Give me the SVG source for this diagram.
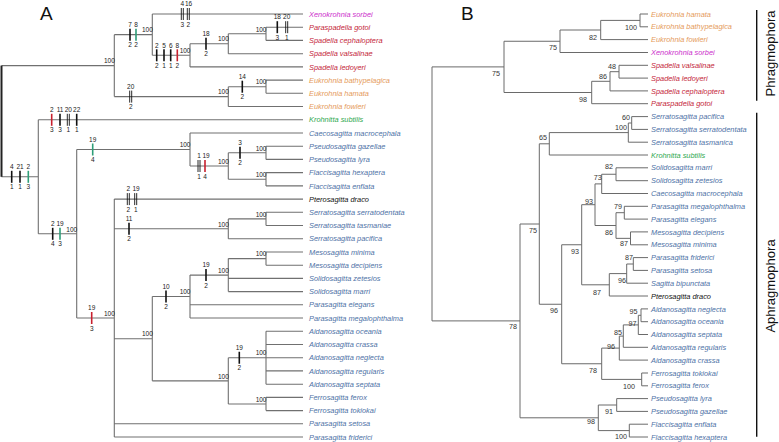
<svg xmlns="http://www.w3.org/2000/svg" width="779" height="442" viewBox="0 0 779 442">
<style>
.ea{fill:none;stroke:#707070;stroke-width:1.1}
.eb{fill:none;stroke:#6a6a6a;stroke-width:1}
.sp{font-family:"Liberation Sans",Arial,sans-serif;font-style:italic;font-size:7.4px}
.o{fill:#E59A5B}.m{fill:#CC2FCC}.r{fill:#C41E3A}.g{fill:#2FA84F}.b{fill:#4E72A6}.k{fill:#111}
.n{font-family:"Liberation Sans",Arial,sans-serif;font-size:6.5px;fill:#222;text-anchor:middle}
.na{font-family:"Liberation Sans",Arial,sans-serif;font-size:6.5px;fill:#222;text-anchor:end}
.nb{font-family:"Liberation Sans",Arial,sans-serif;font-size:7.2px;fill:#333;text-anchor:end}
.t{stroke:#111;stroke-width:1.6}
.tr{stroke:#C8202E;stroke-width:1.6}
.tg{stroke:#2E9E78;stroke-width:1.6}
.td{stroke:#111;stroke-width:0.9}
.big{font-family:"Liberation Sans",Arial,sans-serif;font-size:19px;fill:#111}
.clade{font-family:"Liberation Sans",Arial,sans-serif;font-size:13px;fill:#111;text-anchor:middle}
.bar{stroke:#111;stroke-width:1.4}
</style>
<text class="big" x="40" y="20">A</text>
<text class="big" x="461" y="19.5">B</text>

<g id="connectors-a">
<path class="ea" d="M1.5,65.6H114.3M1.5,176.8H38.3
M114.3,34.65V96.6M114.3,34.65H152.3M114.3,96.6H228.3
M152.3,14V55.3M152.3,14H303M152.3,55.3H190
M190,43.75V66.9M190,43.75H228.3M190,66.9H303
M228.3,33.8V53.7M228.3,33.8H266M228.3,53.7H303
M266,27.2V40.4M266,27.2H303M266,40.4H303
M228.3,86.7V106.5M228.3,86.7H266M228.3,106.5H303
M266,80.1V93.3M266,80.1H303M266,93.3H303
M38.3,119.8V233.8M38.3,119.8H303M38.3,233.8H76.7
M76.7,149.5V318M76.7,149.5H190M76.7,318H114.3
M190,133V166M190,133H303M190,166H228.3
M228.3,152.8V179.25M228.3,152.8H266M228.3,179.25H266
M266,146.2V159.4M266,146.2H303M266,159.4H303
M266,172.6V185.9M266,172.6H303M266,185.9H303
M114.3,199.1V437M114.3,199.1H303M114.3,228.8H228.3M114.3,338.7H152.3M114.3,423.8H303M114.3,437H303
M228.3,218.9V238.7M228.3,218.9H266M228.3,238.7H303
M266,212.3V225.5M266,212.3H303M266,225.5H303
M152.3,296.5V380.85M152.3,296.5H190M152.3,380.85H228.3
M190,275.1V318M190,275.1H228.3M190,304.8H303M190,318H303
M228.3,258.6V291.6M228.3,258.6H266M228.3,278.4H303M228.3,291.6H303
M266,252V265.2M266,252H303M266,265.2H303
M228.3,357.75V404M228.3,357.75H266M228.3,404H266
M266,331.3V384.2M266,331.3H303M266,344.5H303M266,357.7H303M266,370.9H303M266,384.2H303
M266,397.4V410.6M266,397.4H303M266,410.6H303"/>
<path d="M1.5,65.6V176.8" stroke="#222" stroke-width="2" fill="none"/>
</g>

<g id="connectors-b">
<path class="eb" d="M432,66.9V320.9M432,66.9H504M432,320.9H520
M504,41.25V92.5M504,41.25H560M504,92.5H591.7
M560,30V52.5M560,30H600.7M560,52.5H648
M600.7,20.4V39.6M600.7,20.4H640M600.7,39.6H648
M640,14V26.8M640,14H648M640,26.8H648
M591.7,81.3V103.7M591.7,81.3H610M591.7,103.7H648
M610,71.7V90.9M610,71.7H619M610,90.9H648
M619,65.3V78.1M619,65.3H648M619,78.1H648
M520,224V417.8M520,224H539.3M520,417.8H598.3
M539.3,143.8V304.25M539.3,143.8H549.3M539.3,304.25H561.7
M549.3,132.6V155M549.3,132.6H628.3M549.3,155H648
M628.3,123V142.2M628.3,123H631.7M628.3,142.2H648
M631.7,116.6V129.4M631.7,116.6H648M631.7,129.4H648
M561.7,244.75V363.75M561.7,244.75H581.7M561.7,363.75H601.7
M581.7,204.7V284.8M581.7,204.7H595M581.7,284.8H609.3
M595,183.9V225.5M595,183.9H601.7M595,225.5H616
M601.7,174.25V193.5M601.7,174.25H616M601.7,193.5H648
M616,167.8V180.7M616,167.8H648M616,180.7H648
M616,212.7V238.35M616,212.7H624.3M616,238.35H630.5
M624.3,206.3V219.1M624.3,206.3H648M624.3,219.1H648
M630.5,231.9V244.8M630.5,231.9H648M630.5,244.8H648
M609.3,273.6V296M609.3,273.6H626.7M609.3,296H648
M626.7,264V283.2M626.7,264H633.3M626.7,283.2H648
M633.3,257.6V270.4M633.3,257.6H648M633.3,270.4H648
M601.7,348.1V379.4M601.7,348.1H619.3M601.7,379.4H641.7
M619.3,336.1V360.1M619.3,336.1H623.3M619.3,360.1H648
M623.3,324.9V347.3M623.3,324.9H638.3M623.3,347.3H648
M638.3,315.3V334.5M638.3,315.3H641M638.3,334.5H648
M641,308.9V321.7M641,308.9H648M641,321.7H648
M641.7,373V385.8M641.7,373H648M641.7,385.8H648
M598.3,405V430.6M598.3,405H616.7M598.3,430.6H629.3
M616.7,398.6V411.4M616.7,398.6H648M616.7,411.4H648
M629.3,424.2V437M629.3,424.2H648M629.3,437H648"/>
</g>

<g id="characters-a">
<line class="t" x1="11.7" y1="170.8" x2="11.7" y2="182.8"/><text class="n" x="11.7" y="169">4</text><text class="n" x="11.7" y="189.3">1</text>
<line class="t" x1="20" y1="170.8" x2="20" y2="182.8"/><text class="n" x="20" y="169">21</text><text class="n" x="20" y="189.3">1</text>
<line class="tg" x1="28.3" y1="170.8" x2="28.3" y2="182.8"/><text class="n" x="28.3" y="169">2</text><text class="n" x="28.3" y="189.3">3</text>
<line class="tr" x1="51.7" y1="113.8" x2="51.7" y2="125.8"/><text class="n" x="51.7" y="112">2</text><text class="n" x="51.7" y="132.3">3</text>
<line class="t" x1="60" y1="113.8" x2="60" y2="125.8"/><text class="n" x="60" y="112">11</text><text class="n" x="60" y="132.3">3</text>
<line class="td" x1="67.3" y1="113.8" x2="67.3" y2="125.8"/><line class="td" x1="69.3" y1="113.8" x2="69.3" y2="125.8"/><text class="n" x="68.3" y="112">20</text><text class="n" x="68.3" y="132.3">1</text>
<line class="t" x1="76.7" y1="113.8" x2="76.7" y2="125.8"/><text class="n" x="76.7" y="112">22</text><text class="n" x="76.7" y="132.3">1</text>
<line class="t" x1="52.7" y1="227.8" x2="52.7" y2="239.8"/><text class="n" x="52.7" y="226">2</text><text class="n" x="52.7" y="246.3">4</text>
<line class="tg" x1="60" y1="227.8" x2="60" y2="239.8"/><text class="n" x="60" y="226">19</text><text class="n" x="60" y="246.3">3</text>
<line class="tg" x1="92.7" y1="143.5" x2="92.7" y2="155.5"/><text class="n" x="92.7" y="141.7">19</text><text class="n" x="92.7" y="162">4</text>
<line class="tr" x1="91.7" y1="312" x2="91.7" y2="324"/><text class="n" x="91.7" y="310.2">19</text><text class="n" x="91.7" y="330.5">3</text>
<line class="t" x1="130" y1="28.65" x2="130" y2="40.65"/><text class="n" x="130" y="26.8">7</text><text class="n" x="130" y="47.2">2</text>
<line class="tg" x1="136" y1="28.65" x2="136" y2="40.65"/><text class="n" x="136" y="26.8">8</text><text class="n" x="136" y="47.2">2</text>
<line class="td" x1="129.7" y1="90.6" x2="129.7" y2="102.6"/><line class="td" x1="131.7" y1="90.6" x2="131.7" y2="102.6"/><text class="n" x="130.7" y="88.8">20</text><text class="n" x="130.7" y="109.1">2</text>
<line class="td" x1="181.3" y1="8" x2="181.3" y2="20"/><line class="td" x1="183.3" y1="8" x2="183.3" y2="20"/><text class="n" x="182.3" y="6.3">4</text><text class="n" x="182.3" y="26.5">3</text>
<line class="td" x1="187.3" y1="8" x2="187.3" y2="20"/><line class="td" x1="189.3" y1="8" x2="189.3" y2="20"/><text class="n" x="188.6" y="6.3">16</text><text class="n" x="188.3" y="26.5">2</text>
<line class="t" x1="156.7" y1="49.3" x2="156.7" y2="61.3"/><text class="n" x="156.7" y="47.5">2</text><text class="n" x="156.7" y="67.8">2</text>
<line class="t" x1="164" y1="49.3" x2="164" y2="61.3"/><text class="n" x="164" y="47.5">5</text><text class="n" x="164" y="67.8">1</text>
<line class="t" x1="170.7" y1="49.3" x2="170.7" y2="61.3"/><text class="n" x="170.7" y="47.5">6</text><text class="n" x="170.7" y="67.8">1</text>
<line class="tr" x1="177.3" y1="49.3" x2="177.3" y2="61.3"/><text class="n" x="177.3" y="47.5">8</text><text class="n" x="177.3" y="67.8">2</text>
<line class="t" x1="206" y1="37.75" x2="206" y2="49.75"/><text class="n" x="206" y="35.9">18</text><text class="n" x="206" y="56.2">2</text>
<line class="t" x1="277.3" y1="21.2" x2="277.3" y2="33.2"/><text class="n" x="277.3" y="19.4">18</text><text class="n" x="277.3" y="39.7">3</text>
<line class="td" x1="285.7" y1="21.2" x2="285.7" y2="33.2"/><line class="td" x1="287.7" y1="21.2" x2="287.7" y2="33.2"/><text class="n" x="286.7" y="19.4">20</text><text class="n" x="286.7" y="39.7">1</text>
<line class="t" x1="242.3" y1="80.7" x2="242.3" y2="92.7"/><text class="n" x="242.3" y="78.9">14</text><text class="n" x="242.3" y="99.2">2</text>
<line class="td" x1="198" y1="160" x2="198" y2="172"/><line class="td" x1="200" y1="160" x2="200" y2="172"/><text class="n" x="199" y="158.2">1</text><text class="n" x="199" y="178.5">1</text>
<line class="tr" x1="205" y1="160" x2="205" y2="172"/><text class="n" x="206" y="158.2">19</text><text class="n" x="205" y="178.5">4</text>
<line class="t" x1="240" y1="146.8" x2="240" y2="158.8"/><text class="n" x="240" y="145">3</text><text class="n" x="240" y="165.3">2</text>
<line class="td" x1="127.3" y1="193.1" x2="127.3" y2="205.1"/><line class="td" x1="129.3" y1="193.1" x2="129.3" y2="205.1"/><text class="n" x="128.3" y="191.3">2</text><text class="n" x="128.3" y="211.6">2</text>
<line class="td" x1="134.7" y1="193.1" x2="134.7" y2="205.1"/><line class="td" x1="136.7" y1="193.1" x2="136.7" y2="205.1"/><text class="n" x="136" y="191.3">19</text><text class="n" x="135.7" y="211.6">1</text>
<line class="t" x1="129" y1="222.8" x2="129" y2="234.8"/><text class="n" x="129" y="221">11</text><text class="n" x="129" y="241.3">2</text>
<line class="t" x1="166" y1="290.5" x2="166" y2="302.5"/><text class="n" x="166" y="288.7">10</text><text class="n" x="166" y="309">2</text>
<line class="t" x1="206" y1="269.1" x2="206" y2="281.1"/><text class="n" x="206" y="267.3">19</text><text class="n" x="206" y="287.6">2</text>
<line class="t" x1="239.3" y1="351.75" x2="239.3" y2="363.75"/><text class="n" x="239.3" y="349.9">19</text><text class="n" x="239.3" y="370.2">2</text>
</g>

<g id="support-a">
<text class="na" x="114.8" y="63.3">100</text>
<text class="na" x="152.8" y="32.3">100</text>
<text class="na" x="190.5" y="53">100</text>
<text class="na" x="228.8" y="41.4">100</text>
<text class="na" x="266.5" y="31.5">100</text>
<text class="na" x="228.8" y="94.3">100</text>
<text class="na" x="266.5" y="84.4">100</text>
<text class="na" x="77.2" y="231.5">100</text>
<text class="na" x="190.5" y="147.2">100</text>
<text class="na" x="228.8" y="163.7">100</text>
<text class="na" x="266.5" y="150.5">100</text>
<text class="na" x="266.5" y="177">100</text>
<text class="na" x="114.8" y="315.7">100</text>
<text class="na" x="228.8" y="226.5">100</text>
<text class="na" x="266.5" y="216.6">100</text>
<text class="na" x="152.8" y="336.4">100</text>
<text class="na" x="190.5" y="294.2">100</text>
<text class="na" x="228.8" y="272.8">100</text>
<text class="na" x="266.5" y="256.3">100</text>
<text class="na" x="228.8" y="378.5">100</text>
<text class="na" x="266.5" y="355.4">100</text>
<text class="na" x="266.5" y="401.7">100</text>
</g>

<g id="leaves-a" class="sp">
<g id="a-xenokrohnia-sorbei"><text class="m" x="309" y="16.6">Xenokrohnia sorbei</text></g>
<g id="a-paraspadella-gotoi"><text class="r" x="309" y="29.8">Paraspadella gotoi</text></g>
<g id="a-spadella-cephaloptera"><text class="r" x="309" y="43">Spadella cephaloptera</text></g>
<g id="a-spadella-valsalinae"><text class="r" x="309" y="56.3">Spadella valsalinae</text></g>
<g id="a-spadella-ledoyeri"><text class="r" x="309" y="69.5">Spadella ledoyeri</text></g>
<g id="a-eukrohnia-bathypelagica"><text class="o" x="309" y="82.7">Eukrohnia bathypelagica</text></g>
<g id="a-eukrohnia-hamata"><text class="o" x="309" y="95.9">Eukrohnia hamata</text></g>
<g id="a-eukrohnia-fowleri"><text class="o" x="309" y="109.1">Eukrohnia fowleri</text></g>
<g id="a-krohnitta-subtilis"><text class="g" x="309" y="122.4">Krohnitta subtilis</text></g>
<g id="a-caecosagitta-macrocephala"><text class="b" x="309" y="135.6">Caecosagitta macrocephala</text></g>
<g id="a-pseudosagitta-gazellae"><text class="b" x="309" y="148.8">Pseudosagitta gazellae</text></g>
<g id="a-pseudosagitta-lyra"><text class="b" x="309" y="162">Pseudosagitta lyra</text></g>
<g id="a-flaccisagitta-hexaptera"><text class="b" x="309" y="175.2">Flaccisagitta hexaptera</text></g>
<g id="a-flaccisagitta-enflata"><text class="b" x="309" y="188.5">Flaccisagitta enflata</text></g>
<g id="a-pterosagitta-draco"><text class="k" x="309" y="201.7">Pterosagitta draco</text></g>
<g id="a-serratosagitta-serratodentata"><text class="b" x="309" y="214.9">Serratosagitta serratodentata</text></g>
<g id="a-serratosagitta-tasmaniae"><text class="b" x="309" y="228.1">Serratosagitta tasmaniae</text></g>
<g id="a-serratosagitta-pacifica"><text class="b" x="309" y="241.3">Serratosagitta pacifica</text></g>
<g id="a-mesosagitta-minima"><text class="b" x="309" y="254.6">Mesosagitta minima</text></g>
<g id="a-mesosagitta-decipiens"><text class="b" x="309" y="267.8">Mesosagitta decipiens</text></g>
<g id="a-solidosagitta-zetesios"><text class="b" x="309" y="281">Solidosagitta zetesios</text></g>
<g id="a-solidosagitta-marri"><text class="b" x="309" y="294.2">Solidosagitta marri</text></g>
<g id="a-parasagitta-elegans"><text class="b" x="309" y="307.4">Parasagitta elegans</text></g>
<g id="a-parasagitta-megalophthalma"><text class="b" x="309" y="320.6">Parasagitta megalophthalma</text></g>
<g id="a-aidanosagitta-oceania"><text class="b" x="309" y="333.9">Aidanosagitta oceania</text></g>
<g id="a-aidanosagitta-crassa"><text class="b" x="309" y="347.1">Aidanosagitta crassa</text></g>
<g id="a-aidanosagitta-neglecta"><text class="b" x="309" y="360.3">Aidanosagitta neglecta</text></g>
<g id="a-aidanosagitta-regularis"><text class="b" x="309" y="373.5">Aidanosagitta regularis</text></g>
<g id="a-aidanosagitta-septata"><text class="b" x="309" y="386.8">Aidanosagitta septata</text></g>
<g id="a-ferrosagitta-ferox"><text class="b" x="309" y="400">Ferrosagitta ferox</text></g>
<g id="a-ferrosagitta-tokiokai"><text class="b" x="309" y="413.2">Ferrosagitta tokiokai</text></g>
<g id="a-parasagitta-setosa"><text class="b" x="309" y="426.4">Parasagitta setosa</text></g>
<g id="a-parasagitta-friderici"><text class="b" x="309" y="439.6">Parasagitta friderici</text></g>
</g>

<g id="support-b">
<text class="nb" x="637" y="29.5">100</text>
<text class="nb" x="597" y="39.5">82</text>
<text class="nb" x="557" y="50">75</text>
<text class="nb" x="500" y="75.5">75</text>
<text class="nb" x="616" y="68.5">48</text>
<text class="nb" x="607" y="78.5">86</text>
<text class="nb" x="587" y="102">98</text>
<text class="nb" x="630" y="120">60</text>
<text class="nb" x="627" y="130">100</text>
<text class="nb" x="547" y="140">65</text>
<text class="nb" x="613" y="168.5">82</text>
<text class="nb" x="601.7" y="180">73</text>
<text class="nb" x="593" y="203.5">93</text>
<text class="nb" x="622" y="208.5">79</text>
<text class="nb" x="537" y="232.5">75</text>
<text class="nb" x="613" y="235">86</text>
<text class="nb" x="628" y="246">87</text>
<text class="nb" x="579" y="253.5">93</text>
<text class="nb" x="633" y="260">87</text>
<text class="nb" x="626" y="282.5">96</text>
<text class="nb" x="601" y="295">87</text>
<text class="nb" x="558" y="312.5">96</text>
<text class="nb" x="637.5" y="314">95</text>
<text class="nb" x="636.5" y="325.5">97</text>
<text class="nb" x="622" y="335">85</text>
<text class="nb" x="615" y="349">96</text>
<text class="nb" x="597" y="372.5">78</text>
<text class="nb" x="635" y="389">100</text>
<text class="nb" x="613" y="414">91</text>
<text class="nb" x="595" y="424">98</text>
<text class="nb" x="627" y="438.5">100</text>
<text class="nb" x="517" y="329">78</text>
</g>

<g id="leaves-b" class="sp">
<g id="b-eukrohnia-hamata"><text class="o" x="651" y="16.6">Eukrohnia hamata</text></g>
<g id="b-eukrohnia-bathypelagica"><text class="o" x="651" y="29.4">Eukrohnia bathypelagica</text></g>
<g id="b-eukrohnia-fowleri"><text class="o" x="651" y="42.2">Eukrohnia fowleri</text></g>
<g id="b-xenokrohnia-sorbei"><text class="m" x="651" y="55.1">Xenokrohnia sorbei</text></g>
<g id="b-spadella-valsalinae"><text class="r" x="651" y="67.9">Spadella valsalinae</text></g>
<g id="b-spadella-ledoyeri"><text class="r" x="651" y="80.7">Spadella ledoyeri</text></g>
<g id="b-spadella-cephaloptera"><text class="r" x="651" y="93.5">Spadella cephaloptera</text></g>
<g id="b-paraspadella-gotoi"><text class="r" x="651" y="106.3">Paraspadella gotoi</text></g>
<g id="b-serratosagitta-pacifica"><text class="b" x="651" y="119.2">Serratosagitta pacifica</text></g>
<g id="b-serratosagitta-serratodentata"><text class="b" x="651" y="132">Serratosagitta serratodentata</text></g>
<g id="b-serratosagitta-tasmanica"><text class="b" x="651" y="144.8">Serratosagitta tasmanica</text></g>
<g id="b-krohnitta-subtilis"><text class="g" x="651" y="157.6">Krohnitta subtilis</text></g>
<g id="b-solidosagitta-marri"><text class="b" x="651" y="170.4">Solidosagitta marri</text></g>
<g id="b-solidosagitta-zetesios"><text class="b" x="651" y="183.3">Solidosagitta zetesios</text></g>
<g id="b-caecosagitta-macrocephala"><text class="b" x="651" y="196.1">Caecosagitta macrocephala</text></g>
<g id="b-parasagitta-megalophthalma"><text class="b" x="651" y="208.9">Parasagitta megalophthalma</text></g>
<g id="b-parasagitta-elegans"><text class="b" x="651" y="221.7">Parasagitta elegans</text></g>
<g id="b-mesosagitta-decipiens"><text class="b" x="651" y="234.5">Mesosagitta decipiens</text></g>
<g id="b-mesosagitta-minima"><text class="b" x="651" y="247.4">Mesosagitta minima</text></g>
<g id="b-parasagitta-friderici"><text class="b" x="651" y="260.2">Parasagitta friderici</text></g>
<g id="b-parasagitta-setosa"><text class="b" x="651" y="273">Parasagitta setosa</text></g>
<g id="b-sagitta-bipunctata"><text class="b" x="651" y="285.8">Sagitta bipunctata</text></g>
<g id="b-pterosagitta-draco"><text class="k" x="651" y="298.6">Pterosagitta draco</text></g>
<g id="b-aidanosagitta-neglecta"><text class="b" x="651" y="311.5">Aidanosagitta neglecta</text></g>
<g id="b-aidanosagitta-oceania"><text class="b" x="651" y="324.3">Aidanosagitta oceania</text></g>
<g id="b-aidanosagitta-septata"><text class="b" x="651" y="337.1">Aidanosagitta septata</text></g>
<g id="b-aidanosagitta-regularis"><text class="b" x="651" y="349.9">Aidanosagitta regularis</text></g>
<g id="b-aidanosagitta-crassa"><text class="b" x="651" y="362.7">Aidanosagitta crassa</text></g>
<g id="b-ferrosagitta-tokiokai"><text class="b" x="651" y="375.6">Ferrosagitta tokiokai</text></g>
<g id="b-ferrosagitta-ferox"><text class="b" x="651" y="388.4">Ferrosagitta ferox</text></g>
<g id="b-pseudosagitta-lyra"><text class="b" x="651" y="401.2">Pseudosagitta lyra</text></g>
<g id="b-pseudosagitta-gazellae"><text class="b" x="651" y="414">Pseudosagitta gazellae</text></g>
<g id="b-flaccisagitta-enflata"><text class="b" x="651" y="426.8">Flaccisagitta enflata</text></g>
<g id="b-flaccisagitta-hexaptera"><text class="b" x="651" y="439.6">Flaccisagitta hexaptera</text></g>
</g>

<g id="clade-phragmophora">
<line class="bar" x1="756.7" y1="10" x2="756.7" y2="100.7"/>
<text class="clade" transform="translate(775,53.5) rotate(-90)">Phragmophora</text>
</g>
<g id="clade-aphragmophora">
<line class="bar" x1="756.7" y1="112.7" x2="756.7" y2="436.7"/>
<text class="clade" transform="translate(775,286) rotate(-90)">Aphragmophora</text>
</g>
</svg>
